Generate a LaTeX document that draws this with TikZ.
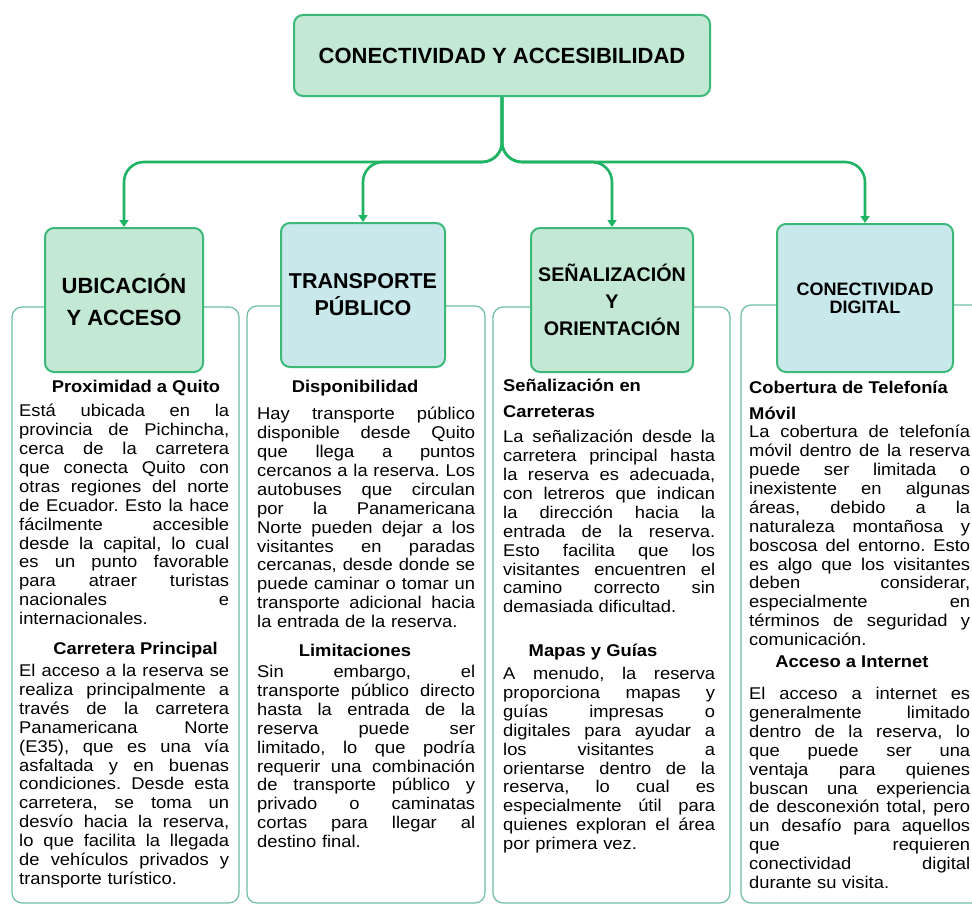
\documentclass[tikz,border=0pt]{standalone}
\usepackage{fontspec}
\setmainfont{Liberation Sans}[FakeStretch=1.08]
\newfontfamily\boxfont{Liberation Sans}
\usetikzlibrary{arrows.meta}
\frenchspacing

\definecolor{linkgreen}{RGB}{30,180,100}
\definecolor{edgegreen}{RGB}{60,185,120}
\definecolor{fillgreen}{RGB}{195,233,213}
\definecolor{fillblue}{RGB}{200,232,236}
\definecolor{paneledge}{RGB}{110,190,165}

% one justified line, and the last line of a paragraph
\newcommand{\jl}[1]{\hbox to \colw{\spaceskip=0.28em plus 1fil\relax #1}}
\newcommand{\lastl}[1]{\hbox{#1}}

\tikzset{
  hbox/.style={draw=edgegreen, line width=2pt, rounded corners=9pt, align=center, inner sep=0pt},
  panel/.style={draw=paneledge, line width=1.2pt, rounded corners=10pt, fill=white},
  link/.style={draw=linkgreen, line width=2.6pt, rounded corners=20pt, -{Triangle[length=7pt,width=9pt]}},
  body/.style={anchor=north west, inner sep=0pt, text width=#1, font=\fontsize{17}{18.9}\selectfont},
  head/.style={inner sep=0pt, align=left, font=\fontsize{17}{26}\selectfont\bfseries},
}

\begin{document}
\begin{tikzpicture}[x=1pt, y=-1pt]

    \def \pbot {903}

    \useasboundingbox (0,0) rectangle (972,907);
    \fill[white] (0,0) rectangle (972,907);
    \clip (0,0) rectangle (972,907);

    % panels behind the boxes
    \draw[panel] (12,307) rectangle (239,\pbot);
    \draw[panel] (247,306) rectangle (485,\pbot);
    \draw[panel] (493,307) rectangle (730,\pbot);
    \draw[panel] (741,305) rectangle (995,\pbot);

    % main box and the four topics
    \node[hbox, fill=fillgreen, minimum width=416, minimum height=81,
          font=\boxfont\bfseries\fontsize{22}{26}\selectfont] (top) at (502,55.5) {CONECTIVIDAD Y ACCESIBILIDAD};

    \node[hbox, fill=fillgreen, minimum width=158, minimum height=144,
          font=\boxfont\bfseries\fontsize{22}{32}\selectfont] (ubic) at (124,300) {UBICACIÓN\\Y ACCESO};
    \node[hbox, fill=fillblue, minimum width=164, minimum height=144,
          font=\boxfont\bfseries\fontsize{21.5}{27}\selectfont] (trans) at (363,295) {TRANSPORTE\\PÚBLICO};
    \node[hbox, fill=fillgreen, minimum width=162, minimum height=144,
          font=\boxfont\bfseries\fontsize{19.7}{27}\selectfont] (senal) at (612,300) {SEÑALIZACIÓN\\Y\\ORIENTACIÓN};
    \node[hbox, fill=fillblue, minimum width=176, minimum height=148,
          font=\boxfont\bfseries\fontsize{18}{18}\selectfont] (digit) at (865,298) {CONECTIVIDAD\\DIGITAL};

    \draw[link] (top.south) -- ++(0,65) -| (ubic.north);
    \draw[link] (top.south) -- ++(0,65) -| (trans.north);
    \draw[link] (top.south) -- ++(0,65) -| (senal.north);
    \draw[link] (top.south) -- ++(0,65) -| (digit.north);

    % Ubicacion y acceso
    \def \colw {210pt}
    \node[head] (h1a) at (136,388) {Proximidad a Quito};
    \node[body=210pt] (t1a) at (19,404) {%
\jl{Está ubicada en la}
\jl{provincia de Pichincha,}
\jl{cerca de la carretera}
\jl{que conecta Quito con}
\jl{otras regiones del norte}
\jl{de Ecuador. Esto la hace}
\jl{fácilmente accesible}
\jl{desde la capital, lo cual}
\jl{es un punto favorable}
\jl{para atraer turistas}
\jl{nacionales e}
\lastl{internacionales.}};
    \node[head] (h1b) at (135.5,650) {Carretera Principal};
    \node[body=210pt] (t1b) at (19,664) {%
\jl{El acceso a la reserva se}
\jl{realiza principalmente a}
\jl{través de la carretera}
\jl{Panamericana Norte}
\jl{(E35), que es una vía}
\jl{asfaltada y en buenas}
\jl{condiciones. Desde esta}
\jl{carretera, se toma un}
\jl{desvío hacia la reserva,}
\jl{lo que facilita la llegada}
\jl{de vehículos privados y}
\lastl{transporte turístico.}};

    % Transporte publico
    \def \colw {218pt}
    \node[head] (h2a) at (355,388) {Disponibilidad};
    \node[body=218pt] (t2a) at (257,407) {%
\jl{Hay transporte público}
\jl{disponible desde Quito}
\jl{que llega a puntos}
\jl{cercanos a la reserva. Los}
\jl{autobuses que circulan}
\jl{por la Panamericana}
\jl{Norte pueden dejar a los}
\jl{visitantes en paradas}
\jl{cercanas, desde donde se}
\jl{puede caminar o tomar un}
\jl{transporte adicional hacia}
\lastl{la entrada de la reserva.}};
    \node[head] (h2b) at (355,650) {Limitaciones};
    \node[body=218pt] (t2b) at (257,665) {%
\jl{Sin embargo, el}
\jl{transporte público directo}
\jl{hasta la entrada de la}
\jl{reserva puede ser}
\jl{limitado, lo que podría}
\jl{requerir una combinación}
\jl{de transporte público y}
\jl{privado o caminatas}
\jl{cortas para llegar al}
\lastl{destino final.}};

    % Senalizacion y orientacion
    \def \colw {212pt}
    \node[head, anchor=west] (h3a) at (503,398.5) {Señalización en\\Carreteras};
    \node[body=212pt] (t3a) at (503,430) {%
\jl{La señalización desde la}
\jl{carretera principal hasta}
\jl{la reserva es adecuada,}
\jl{con letreros que indican}
\jl{la dirección hacia la}
\jl{entrada de la reserva.}
\jl{Esto facilita que los}
\jl{visitantes encuentren el}
\jl{camino correcto sin}
\lastl{demasiada dificultad.}};
    \node[head] (h3b) at (593,652) {Mapas y Guías};
    \node[body=212pt] (t3b) at (503,667) {%
\jl{A menudo, la reserva}
\jl{proporciona mapas y}
\jl{guías impresas o}
\jl{digitales para ayudar a}
\jl{los visitantes a}
\jl{orientarse dentro de la}
\jl{reserva, lo cual es}
\jl{especialmente útil para}
\jl{quienes exploran el área}
\lastl{por primera vez.}};

    % Conectividad digital
    \def \colw {221pt}
    \node[head, anchor=west] (h4a) at (749,400.5) {Cobertura de Telefonía\\Móvil};
    \node[body=221pt] (t4a) at (749,425) {%
\jl{La cobertura de telefonía}
\jl{móvil dentro de la reserva}
\jl{puede ser limitada o}
\jl{inexistente en algunas}
\jl{áreas, debido a la}
\jl{naturaleza montañosa y}
\jl{boscosa del entorno. Esto}
\jl{es algo que los visitantes}
\jl{deben considerar,}
\jl{especialmente en}
\jl{términos de seguridad y}
\lastl{comunicación.}};
    \node[head] (h4b) at (852,662) {Acceso a Internet};
    \node[body=221pt] (t4b) at (749,687) {%
\jl{El acceso a internet es}
\jl{generalmente limitado}
\jl{dentro de la reserva, lo}
\jl{que puede ser una}
\jl{ventaja para quienes}
\jl{buscan una experiencia}
\jl{de desconexión total, pero}
\jl{un desafío para aquellos}
\jl{que requieren}
\jl{conectividad digital}
\lastl{durante su visita.}};

\end{tikzpicture}
\end{document}
